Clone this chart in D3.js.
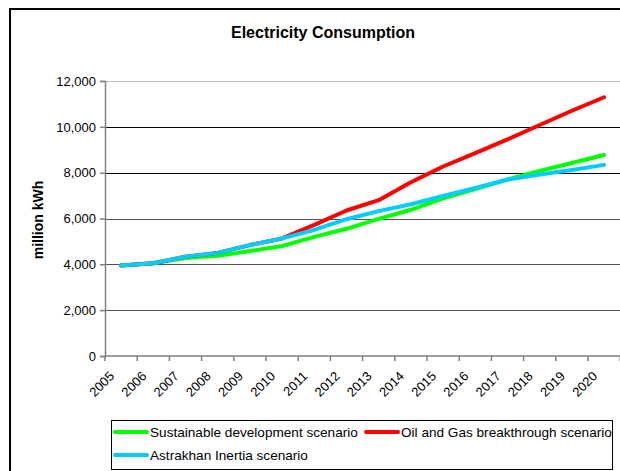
<!DOCTYPE html>
<html>
<head>
<meta charset="utf-8">
<script src="https://cdn.jsdelivr.net/npm/d3@7/dist/d3.min.js"></script>
<style>
  html, body { margin: 0; padding: 0; background: #fff; }
  svg { display: block; font-family: "Liberation Sans", Arial, sans-serif; }
</style>
</head>
<body>
<svg id="chart" width="620" height="471"></svg>
<script>
const years = ["2005","2006","2007","2008","2009","2010","2011","2012","2013","2014","2015","2016","2017","2018","2019","2020"];
const sustainable = [3950, 4050, 4280, 4370, 4580, 4800, 5200, 5550, 5980, 6380, 6880, 7280, 7700, 8080, 8420, 8770];
const oilGas      = [3950, 4050, 4330, 4500, 4840, 5130, 5720, 6350, 6800, 7580, 8270, 8850, 9450, 10080, 10700, 11290];
const astrakhan   = [3950, 4050, 4330, 4500, 4840, 5130, 5500, 5970, 6320, 6620, 6980, 7330, 7700, 7920, 8120, 8340];
const yTicks = [0, 2000, 4000, 6000, 8000, 10000, 12000];
const seriesNames = ["Sustainable development scenario", "Oil and Gas breakthrough scenario", "Astrakhan Inertia scenario"];
const seriesColors = ["#00ff00", "#ff0000", "#00ccff"];

const series = [sustainable, oilGas, astrakhan].map((v, i) => ({ name: seriesNames[i], color: seriesColors[i], values: v }));

const svg = d3.select("#chart");
const pLeft = 105, pRight = 620.2, pTop = 81, pBottom = 356;

const x = d3.scaleBand().domain(years).range([pLeft, pRight]).padding(0);
const y = d3.scaleLinear().domain([0, 12000]).range([pBottom, pTop]);

// outer chart border
svg.append("rect").attr("x", 10).attr("y", 9).attr("width", 700).attr("height", 600)
  .attr("fill", "none").attr("stroke", "#000").attr("stroke-width", 2);

// title
svg.append("text").attr("x", 323).attr("y", 38).attr("text-anchor", "middle")
  .attr("font-size", 16).attr("font-weight", "bold").text("Electricity Consumption");

// gridlines
svg.append("g").selectAll("line").data(yTicks.filter(d => d > 0)).join("line")
  .attr("x1", pLeft).attr("x2", 620).attr("y1", d => Math.round(y(d)) + 0.5).attr("y2", d => Math.round(y(d)) + 0.5)
  .attr("stroke", d => d === 12000 ? "#c0c0c0" : (d >= 8000 ? "#000" : "#555"))
  .attr("stroke-width", 1);

// y axis
const yAxis = d3.axisLeft(y).tickValues(yTicks).tickFormat(d3.format(",")).tickSize(5).tickPadding(4);
const gy = svg.append("g").attr("transform", `translate(${pLeft},0)`).call(yAxis);
gy.select(".domain").attr("stroke", "#808080").attr("stroke-width", 1.5);
gy.selectAll(".tick line").attr("stroke", "#808080").attr("stroke-width", 1.5);
gy.selectAll(".tick text").attr("font-size", 13).attr("fill", "#000")
  .attr("font-family", "Liberation Sans, Arial, sans-serif");

// x axis line & ticks at category boundaries
const gx = svg.append("g");
gx.append("line").attr("x1", pLeft).attr("x2", 620).attr("y1", pBottom).attr("y2", pBottom)
  .attr("stroke", "#808080").attr("stroke-width", 1.5);
const boundaries = years.map(d => x(d)).concat([x(years[years.length - 1]) + x.bandwidth()]);
gx.selectAll("line.tk").data(boundaries).join("line").attr("class", "tk")
  .attr("x1", d => d).attr("x2", d => d).attr("y1", pBottom).attr("y2", pBottom + 5)
  .attr("stroke", "#808080").attr("stroke-width", 1.5);
gx.selectAll("text").data(years).join("text")
  .attr("transform", d => `translate(${x(d) + x.bandwidth() / 2 - 6},${pBottom + 21}) rotate(-45)`)
  .attr("text-anchor", "end").attr("font-size", 13).text(d => d);

// y axis title
svg.append("text").attr("transform", "translate(43,220) rotate(-90)")
  .attr("text-anchor", "middle").attr("font-size", 14).attr("font-weight", "bold").text("million kWh");

// lines
const line = d3.line().x((d, i) => x(years[i]) + x.bandwidth() / 2).y(d => y(d));
svg.append("g").selectAll("path").data(series).join("path")
  .attr("d", s => line(s.values)).attr("fill", "none")
  .attr("stroke", s => s.color).attr("stroke-width", 4)
  .attr("stroke-linejoin", "round").attr("stroke-linecap", "round");

// legend
const lg = svg.append("g");
lg.append("rect").attr("x", 111.5).attr("y", 420.5).attr("width", 501).attr("height", 49)
  .attr("fill", "#fff").attr("stroke", "#000").attr("stroke-width", 1);
const legendPos = [[114, 432], [365, 432], [114, 455]];
series.forEach((s, i) => {
  const [lx, ly] = legendPos[i];
  lg.append("line").attr("x1", lx + 1).attr("x2", lx + 33).attr("y1", ly).attr("y2", ly)
    .attr("stroke", s.color).attr("stroke-width", 4).attr("stroke-linecap", "round");
  lg.append("text").attr("x", lx + 36).attr("y", ly + 4.5).attr("font-size", 13.6).text(s.name);
});
</script>
</body>
</html>
